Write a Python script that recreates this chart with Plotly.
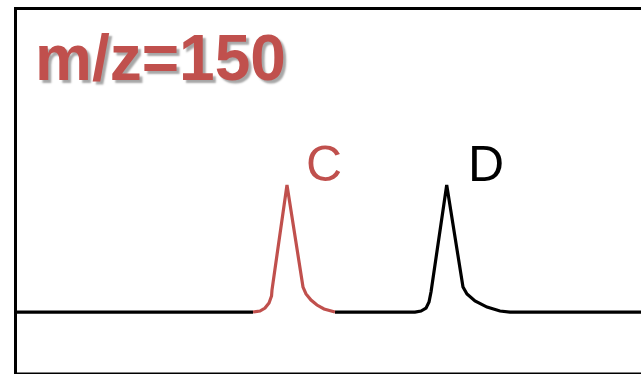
import plotly.graph_objects as go

# Peak C (m/z=150), retention time (min) vs relative intensity (%)
c_time = [3.947, 4.056, 4.134, 4.197, 4.236, 4.243, 4.477, 4.727, 4.774, 4.852, 4.945, 5.055, 5.226]
c_int = [0, 0.8, 3.1, 7.1, 12.6, 17.3, 100, 19.7, 14.2, 9.4, 5.5, 2.4, 0]

# Baseline before C, between C and D, peak D and trailing baseline
base1_time = [0.25, 3.947]
base1_int = [0, 0]
d_time = [5.226, 6.474, 6.568, 6.646, 6.693, 6.724, 6.969, 7.223, 7.285, 7.410, 7.598, 7.800, 7.956, 10.2]
d_int = [0, 0, 0.8, 3.1, 7.9, 15.7, 100, 19.7, 14.2, 8.7, 3.9, 0.8, 0, 0]

peak_labels = ["C", "D"]
title_text = "m/z=150"

RED = "#C0504D"
FONT = "Arial, Liberation Sans, sans-serif"

fig = go.Figure()
fig.add_trace(go.Scatter(x=base1_time, y=base1_int, mode="lines",
                         line=dict(color="black", width=3.2), showlegend=False))
fig.add_trace(go.Scatter(x=d_time, y=d_int, mode="lines",
                         line=dict(color="black", width=3.2), showlegend=False))
fig.add_trace(go.Scatter(x=c_time, y=c_int, mode="lines",
                         line=dict(color=RED, width=3.2), showlegend=False))

# peak labels anchored at apex
apex_c = c_int.index(max(c_int))
apex_d = d_int.index(max(d_int))
fig.add_annotation(x=c_time[apex_c], y=c_int[apex_c], text=peak_labels[0], showarrow=False,
                   xanchor="left", yanchor="middle", xshift=17, yshift=21,
                   font=dict(family=FONT, size=50, color=RED))
fig.add_annotation(x=d_time[apex_d], y=d_int[apex_d], text=peak_labels[1], showarrow=False,
                   xanchor="left", yanchor="middle", xshift=19, yshift=21,
                   font=dict(family=FONT, size=50, color="black"))

fig.add_annotation(xref="paper", yref="paper", x=33/641, y=1 - 58/374, text="<b>" + title_text + "</b>",
                   showarrow=False, xanchor="left", yanchor="middle",
                   font=dict(family=FONT, size=64, color=RED,
                             shadow="3px 3px 2px rgba(0,0,0,0.35)"))

fig.add_shape(type="rect", xref="paper", yref="paper",
              x0=15.5/641, x1=1.05, y0=0, y1=1 - 8.5/374,
              line=dict(color="black", width=3), layer="above")

fig.update_layout(
    width=641, height=374,
    margin=dict(l=0, r=0, t=0, b=0),
    paper_bgcolor="white", plot_bgcolor="white",
    xaxis=dict(range=[0, 10], visible=False, fixedrange=True),
    yaxis=dict(range=[-48.8, 245.7], visible=False, fixedrange=True),
)

fig.write_html("out.html", config={"displayModeBar": False},
               post_script="document.body.style.margin='0';document.body.style.overflow='hidden';")
